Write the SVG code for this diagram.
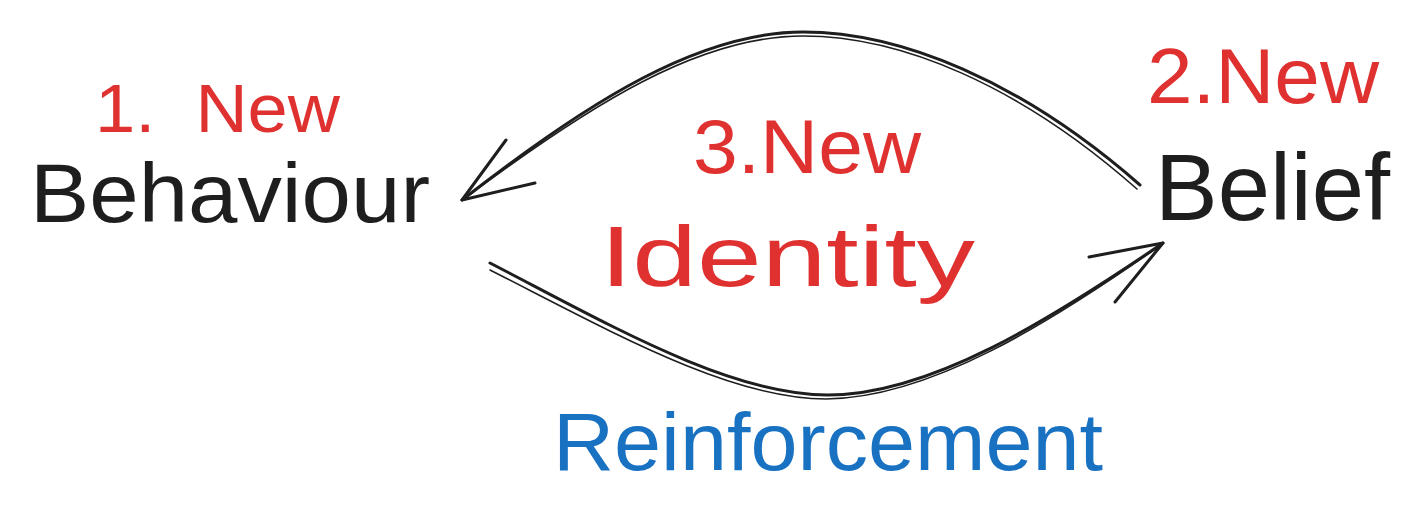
<svg xmlns="http://www.w3.org/2000/svg" width="1419" height="532" viewBox="0 0 1419 532">
<style>
.t{font-family:"Liberation Sans","Noto Sans",sans-serif;}
.red{fill:#e03131;}
.blk{fill:#1e1e1e;}
.blue{fill:#1971c2;}
.ln{fill:none;stroke:#1e1e1e;stroke-linecap:round;stroke-linejoin:round;}
</style>
<rect width="1419" height="532" fill="#ffffff"/>
<g id="connectors">
<g id="arrow-belief-to-behaviour">
<path class="ln" stroke-width="3" d="M1140,185 C1020,80 900,32 803,32 C700,32 590,100 462,200"/>
<path class="ln" stroke-width="1.6" d="M1137,189 C1018,84 900,36 803,36 C700,36 592,103 464,199"/>
<path class="ln" stroke-width="3" d="M462,200 L506,140 M462,200 L535,183"/>
</g>
<g id="arrow-behaviour-to-belief">
<path class="ln" stroke-width="3" d="M490,263 C610,325 730,395 828,395 C930,395 1050,320 1163,243"/>
<path class="ln" stroke-width="1.6" d="M490,270 C612,332 730,399 826,399 C930,398 1050,323 1161,245"/>
<path class="ln" stroke-width="3" d="M1163,243 L1089,257 M1163,243 L1115,302"/>
</g>
</g>
<g id="node-behaviour">
<text class="t red" x="95" y="132" font-size="68" textLength="245" lengthAdjust="spacingAndGlyphs" xml:space="preserve">1.  New</text>
<text class="t blk" x="30" y="222" font-size="84" textLength="400" lengthAdjust="spacingAndGlyphs">Behaviour</text>
</g>
<g id="node-identity">
<text class="t red" x="693" y="173" font-size="76" textLength="228" lengthAdjust="spacingAndGlyphs">3.New</text>
<text class="t red" x="600" y="286" font-size="86" textLength="375" lengthAdjust="spacingAndGlyphs">Identity</text>
</g>
<g id="node-belief">
<text class="t red" x="1147" y="103" font-size="78" textLength="232" lengthAdjust="spacingAndGlyphs">2.New</text>
<text class="t blk" x="1155" y="220" font-size="94" textLength="235" lengthAdjust="spacingAndGlyphs">Belief</text>
</g>
<g id="label-reinforcement">
<text class="t blue" x="553" y="470" font-size="82" textLength="550" lengthAdjust="spacingAndGlyphs">Reinforcement</text>
</g>
</svg>
